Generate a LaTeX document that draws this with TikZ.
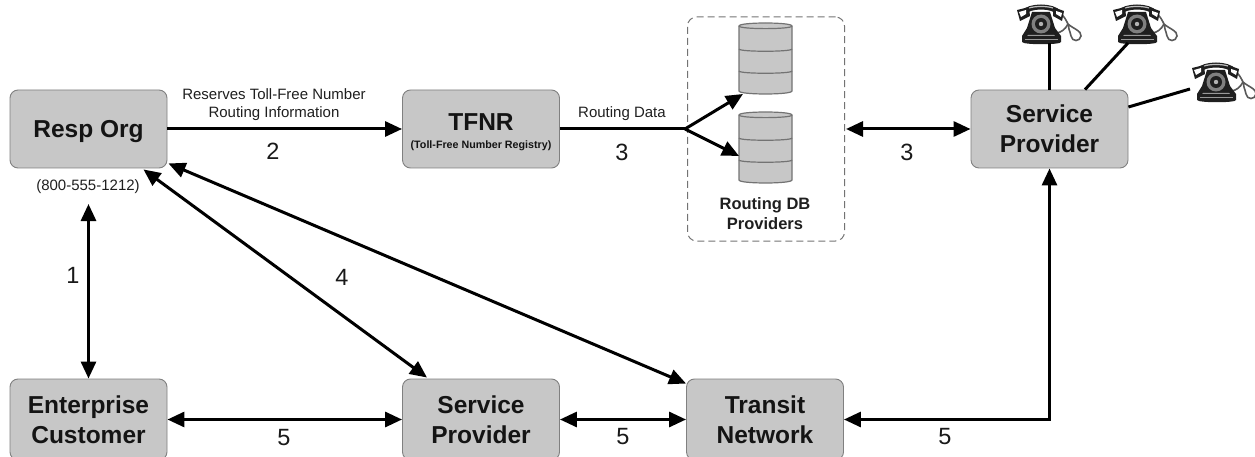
\documentclass[tikz,border=0pt]{standalone}
\usepackage{fontspec}
\setmainfont{Liberation Sans}
\usetikzlibrary{arrows.meta,shapes.geometric,calc}
\newcommand{\fsz}[2]{\fontsize{#1}{#2}\selectfont}
\tikzset{
  x=1pt,y=-1pt,
  procbox/.style={draw=black!50,line width=0.9pt,fill=black!22,rounded corners=8pt,minimum width=157pt,minimum height=78pt,align=center,inner sep=0pt,font=\fsz{24.5}{30}\bfseries,text=black!92},
  lowbox/.style={procbox,minimum height=81pt},
  link/.style={line width=3pt,black,{Triangle[length=17pt,width=15pt]}-{Triangle[length=17pt,width=15pt]}},
  oneway/.style={line width=3pt,black,-{Triangle[length=17pt,width=15pt]}},
  plain/.style={line width=3pt,black},
  caption/.style={font=\fsz{15}{20},align=center,inner sep=0pt,text=black!88},
  num/.style={font=\fsz{23.5}{24},inner sep=0pt,text=black!90},
  dbdisk/.style={draw=black!55,line width=1.2pt,fill=black!22},
  phone/.pic={
    % cord
    \draw[line width=1.6pt,black!65] (43,9) .. controls (47,12) and (49,16) .. (51,20) .. controls (55,24) and (65,27) .. (64,32) .. controls (63,38) and (55,38) .. (54,32) .. controls (53,27) and (51,24) .. (51,20);
    \draw[line width=1.6pt,black!65] (40,29) .. controls (44,28) and (48,26) .. (51,20);
    % body
    \fill[black!88] (15,8) -- (33,8) -- (38,24) -- (44,32) -- (44,38) .. controls (44,41) and (6,41) .. (5,38) -- (5,32) -- (10,24) -- cycle;
    \fill[black!40] (8,35) rectangle (41,36.2);
    \fill[black!40] (11,31) -- (37,31) -- (38,32) -- (10,32) -- cycle;
    % dial
    \fill[black!50] (24,20) circle (9.5);
    \fill[black!88] (24,20) circle (6);
    \fill[black!30] (24,20) circle (2.2);
    % handset
    \draw[line width=5pt,black!88,line cap=round] (6,9) .. controls (12,1) and (36,1) .. (42,9);
    \draw[line width=1.2pt,black!25,line cap=round] (12,4) .. controls (18,2) and (30,2) .. (36,4);
    \fill[black!88] (0,6) -- (12,3) -- (13,12) -- (3,17) -- cycle;
    \fill[black!88] (36,3) -- (47,7) -- (45,17) -- (36,12) -- cycle;
    \fill[white] (2,8) -- (9,6) -- (9,10) -- (4,13) -- cycle;
    \fill[white] (39,7) -- (45,9) -- (44,13) -- (39,10) -- cycle;
  },
}
\begin{document}
\begin{tikzpicture}
\useasboundingbox (0,0) rectangle (1255,457);
\clip (0,0) rectangle (1255,457);
% boxes
\node[procbox,text depth=0pt] (resp) at (88.5,129) {Resp Org};
\node[procbox] (tfnr) at (481,129) {\rule{0pt}{24pt}TFNR\\[-12pt]{\fsz{10.7}{12}(Toll-Free Number Registry)}};
\node[procbox] (sptop) at (1049.5,129) {Service\\Provider};
\node[lowbox] (ent) at (88.5,419.5) {Enterprise\\Customer};
\node[lowbox] (spmid) at (481,419.5) {Service\\Provider};
\node[lowbox] (transit) at (765,419.5) {Transit\\Network};
% routing DB group
\node[draw=black!55,dash pattern=on 7pt off 4pt,line width=1pt,rounded corners=9pt,minimum width=157pt,minimum height=224pt,inner sep=0pt] (group) at (766,129) {};
% cylinders
\foreach \top in {23,112}{
  \path[dbdisk] (739,\top+3) -- (739,\top+68) .. controls (739,\top+72) and (792,\top+72) .. (792,\top+68) -- (792,\top+3) .. controls (792,\top-1) and (739,\top-1) .. (739,\top+3) -- cycle;
  \draw[dbdisk,fill=none] (739,\top+3) .. controls (739,\top+6.5) and (792,\top+6.5) .. (792,\top+3);
  \draw[dbdisk,fill=none] (739,\top+26) .. controls (739,\top+29) and (792,\top+29) .. (792,\top+26);
  \draw[dbdisk,fill=none] (739,\top+48) .. controls (739,\top+51) and (792,\top+51) .. (792,\top+48);
}
\coordinate (dbA) at (743,94);
\coordinate (dbB) at (739,156);
\node[font=\fsz{16.5}{20}\bfseries,align=center,inner sep=0pt,text=black!88] (grouplabel) at (765,214) {Routing DB\\Providers};
% phones
\pic at (1017,4) {phone};
\pic at (1113,4) {phone};
\pic at (1192,62) {phone};
\coordinate (ph1) at (1049.5,43);
\coordinate (ph2) at (1128,43);
\coordinate (ph3) at (1190,89);
% connectors
\draw[oneway] (resp.east) -- (tfnr.west);
\coordinate (fork) at (685,129);
\draw[plain] (tfnr.east) -- (fork);
\draw[oneway] (fork) -- (dbA);
\draw[oneway] (fork) -- (dbB);
\draw[link] ($(group.east)+(1,0)$) -- (sptop.west);
\draw[plain] (sptop.north) -- (ph1);
\draw[plain] ($(sptop.north)+(35.5,0)$) -- (ph2);
\draw[plain] ($(sptop.east)+(0,-22)$) -- (ph3);
\coordinate (respnum) at (88.5,204);
\draw[link] (respnum) -- (ent.north);
\draw[link] ($(resp.south east)+(-24,1)$) -- ($(spmid.north)+(-54,-1)$);
\draw[link] ($(resp.south east)+(1,-5)$) -- ($(transit.north west)+(0,5)$);
\draw[link] (ent.east) -- (spmid.west);
\draw[link] (spmid.east) -- (transit.west);
\draw[link] (transit.east) -| (sptop.south);
% labels
\node[caption] (l2a) at (274,94) {Reserves Toll-Free Number};
\node[caption] (l2b) at (274,113.5) {Routing Information};
\node[caption] (l3) at (622,113.5) {Routing Data};
\node[caption] (phone) at (88,186.5) {(800-555-1212)};
\node[num] (n2) at (273,151.5) {2};
\node[num] (n3a) at (622,152) {3};
\node[num] (n3b) at (907,152) {3};
\node[num] (n1) at (73,275) {1};
\node[num] (n4) at (342,277) {4};
\node[num] (n5a) at (284,438) {5};
\node[num] (n5b) at (623,437) {5};
\node[num] (n5c) at (945,437) {5};
\end{tikzpicture}
\end{document}
